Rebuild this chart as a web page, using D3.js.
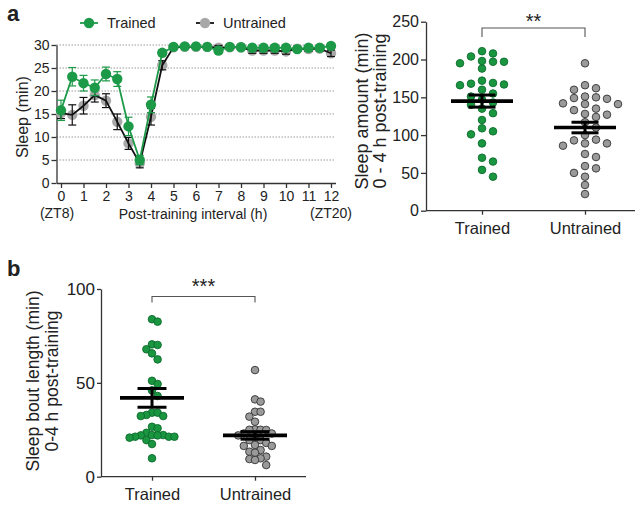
<!DOCTYPE html>
<html><head><meta charset="utf-8">
<script src="https://cdn.jsdelivr.net/npm/d3@7"></script>
<style>
body{margin:0;background:#fff}
svg text{font-family:"Liberation Sans",Arial,Helvetica,sans-serif;fill:#222}
</style>
</head><body>
<svg id="c" width="636" height="507"></svg>
<script>
// ---------- DATA ----------
const hours = [0,0.5,1,1.5,2,2.5,3,3.5,4,4.5,5,5.5,6,6.5,7,7.5,8,8.5,9,9.5,10,10.5,11,11.5,12];
const trainedSleep   = [15.8,23.1,21.7,20.7,23.7,22.6,12.3,5.0,17.0,28.3,29.6,29.7,29.7,29.6,28.8,29.6,29.5,29.4,29.4,29.4,29.4,29.1,29.4,29.4,29.8];
const trainedErr     = [2.2,2.0,1.7,1.7,1.5,1.6,2.0,1.0,1.7,0.6,0.4,0.3,0.3,0.3,0.6,0.3,0.3,0.4,0.4,0.4,0.4,0.5,0.4,0.4,0.3];
const untrainedSleep = [15.2,14.8,16.8,19.1,17.9,13.3,8.6,4.3,14.4,25.6,29.5,29.6,29.6,29.6,29.4,29.5,29.5,28.8,28.8,28.8,28.6,29.2,29.1,29.2,28.2];
const untrainedErr   = [1.2,2.2,1.8,1.5,1.5,1.7,1.3,1.0,1.8,1.0,0.4,0.3,0.3,0.4,0.5,0.4,0.4,0.6,0.6,0.6,0.6,0.5,0.5,0.5,0.7];
const sleepTicks = [0,5,10,15,20,25,30];
const hourTicks = [0,1,2,3,4,5,6,7,8,9,10,11,12];

const groups = ["Trained","Untrained"];
const amountTrained   = [211,208,204,198,197,197,195,188,172,169,168,167,166,160,155,151,147,143,140,135,129,120,109,105,101,89,70,65,54,45];
const amountUntrained = [195,166,162,160,151,150,149,148,142,141,141,135,133,128,127,124,117,110,100,94,93,89,89,86,75,71,59,56,50,45,34,22];
const amountMean = [145,110];
const amountSem  = [8,7];
const amountTicks = [0,50,100,150,200,250];

const boutTrained   = [83.9,82.6,70.5,70.2,67.9,65.7,62.5,51.1,49.4,46,43,34.1,34.1,32.9,32.3,32.3,26.6,25.8,23.4,22.2,22.2,22,22,21.3,21.3,21.3,20.8,19.5,17.4,9.8];
const boutUntrained = [56.8,41.2,40,34.6,34.6,32,29.3,25.2,25,24.9,25,23,23,22,21.3,19.5,19.5,18,16.9,16.4,16.4,14.2,13.3,12.8,10.7,9.8,9.4,8.9,6.2];
const boutMean = [42,22];
const boutSem  = [5,2];
const boutTicks = [0,50,100];

// ---------- STYLE ----------
const GREEN = "#1d9a48", GREEN_D = "#0b6b2b", GREY = "#9a9a9a", GREY_D = "#333";
const svg = d3.select("#c");

function styleAxis(g, fs){
  g.selectAll(".domain").attr("stroke","#333").attr("stroke-width",1.3);
  g.selectAll(".tick line").attr("stroke","#333").attr("stroke-width",1.3);
  g.selectAll(".tick text").attr("font-size",fs).attr("fill","#222")
   .style("font-family",'"Liberation Sans",Arial,sans-serif');
}

// ---------- PANEL a (line chart) ----------
const xA = d3.scaleLinear([-0.2,12.2],[56.5,335.5]);
const yA = d3.scaleLinear([0,30],[183,45]);

svg.append("text").attr("x",7).attr("y",21).attr("font-size",22).attr("font-weight","bold").text("a");

// grid
svg.append("g").selectAll("line").data(sleepTicks.filter(d=>d>0)).join("line")
  .attr("x1",xA(-0.2)).attr("x2",xA(12.2)).attr("y1",d=>yA(d)).attr("y2",d=>yA(d))
  .attr("stroke","#9a9a9a").attr("stroke-width",1).attr("stroke-dasharray","1.5,1.5");

const gyA = svg.append("g").attr("transform",`translate(${xA(-0.2)},0)`)
  .call(d3.axisLeft(yA).tickValues(sleepTicks).tickSize(5).tickPadding(2).tickSizeOuter(0));
styleAxis(gyA,14);
const gxA = svg.append("g").attr("transform",`translate(0,${yA(0)})`)
  .call(d3.axisBottom(xA).tickValues(hourTicks).tickSize(5).tickPadding(3).tickSizeOuter(0).tickFormat(d3.format("d")));
styleAxis(gxA,14);

svg.append("text").attr("transform",`translate(28,117) rotate(-90)`).attr("text-anchor","middle")
  .attr("font-size",16).text("Sleep (min)");
svg.append("text").attr("x",xA(0)-4).attr("y",218).attr("text-anchor","middle").attr("font-size",14).text("(ZT8)");
svg.append("text").attr("x",xA(12)).attr("y",218).attr("text-anchor","middle").attr("font-size",14).text("(ZT20)");
svg.append("text").attr("x",193).attr("y",219).attr("text-anchor","middle").attr("font-size",14).text("Post-training interval (h)");

function drawSeries(vals, errs, markerFill, lineColor, errColor){
  const g = svg.append("g");
  const pts = hours.map((h,i)=>({h,v:vals[i],e:errs[i]}));
  g.selectAll("circle").data(pts).join("circle")
    .attr("cx",d=>xA(d.h)).attr("cy",d=>yA(d.v)).attr("r",5.2).attr("fill",markerFill);
  const eb = g.selectAll("g.eb").data(pts).join("g").attr("stroke",errColor).attr("stroke-width",1.2);
  eb.append("line").attr("x1",d=>xA(d.h)).attr("x2",d=>xA(d.h)).attr("y1",d=>yA(d.v-d.e)).attr("y2",d=>yA(d.v+d.e));
  eb.append("line").attr("x1",d=>xA(d.h)-4).attr("x2",d=>xA(d.h)+4).attr("y1",d=>yA(d.v-d.e)).attr("y2",d=>yA(d.v-d.e));
  eb.append("line").attr("x1",d=>xA(d.h)-4).attr("x2",d=>xA(d.h)+4).attr("y1",d=>yA(d.v+d.e)).attr("y2",d=>yA(d.v+d.e));
  g.append("path").datum(pts).attr("fill","none").attr("stroke",lineColor).attr("stroke-width",1.8)
    .attr("d",d3.line().x(d=>xA(d.h)).y(d=>yA(d.v)));
}
drawSeries(untrainedSleep, untrainedErr, "#a8a8a8", "#111", "#111");
drawSeries(trainedSleep, trainedErr, GREEN, GREEN, GREEN);

// legend
const leg = [{label:"Trained",x:89,fill:GREEN,line:GREEN},{label:"Untrained",x:205,fill:"#a8a8a8",line:"#111"}];
const lg = svg.append("g").selectAll("g").data(leg).join("g");
lg.append("line").attr("x1",d=>d.x-9).attr("x2",d=>d.x+9).attr("y1",23).attr("y2",23).attr("stroke",d=>d.line).attr("stroke-width",1.8);
lg.append("circle").attr("cx",d=>d.x).attr("cy",23).attr("r",5.2).attr("fill",d=>d.fill);
lg.append("text").attr("x",d=>d.x+18).attr("y",28).attr("font-size",14.5).text(d=>d.label);

// ---------- swarm helper ----------
function swarm(vals, y, cx, step, minDy){
  const pts = vals.map(v=>({v, y:y(v)})).sort((a,b)=>a.y-b.y);
  const placed = [];
  for(const p of pts){
    for(let i=0;i<60;i++){
      const k = i===0 ? 0 : (i%2 ? Math.ceil(i/2) : -i/2);
      if(!placed.some(q=>q.k===k && Math.abs(q.y-p.y)<minDy)){ p.k=k; break; }
    }
    placed.push(p);
  }
  pts.forEach(p=>p.x = cx + p.k*step);
  return pts;
}

function scatterPanel(o){
  const y = d3.scaleLinear(o.domain, o.yRange);
  const x = d3.scalePoint(groups, o.xPos);
  const gy = svg.append("g").attr("transform",`translate(${o.axisX},0)`)
    .call(d3.axisLeft(y).tickValues(o.ticks).tickSize(o.tick).tickPadding(o.pad).tickSizeOuter(0));
  styleAxis(gy,o.tickFs);
  const gx = svg.append("g").attr("transform",`translate(0,${y(0)})`)
    .call(d3.axisBottom(x).tickSize(4).tickPadding(4).tickSizeOuter(0));
  styleAxis(gx,16.5);
  gx.select(".domain").attr("d",`M${o.axisX},0H${o.axisEnd}`);
  gx.selectAll(".tick text").attr("dy","0.95em");
  // points
  const series = [{vals:o.trained, fill:"#1a9641", stroke:GREEN_D, g:0},{vals:o.untrained, fill:GREY, stroke:GREY_D, g:1}];
  series.forEach(s=>{
    const pts = swarm(s.vals, y, x(groups[s.g]), o.step, o.minDy);
    svg.append("g").selectAll("circle").data(pts).join("circle")
      .attr("cx",d=>d.x).attr("cy",d=>d.y).attr("r",o.r)
      .attr("fill",s.fill).attr("stroke",s.stroke).attr("stroke-width",0.9);
  });
  // mean + sem
  groups.forEach((gname,i)=>{
    const cx = x(gname), m=o.mean[i], s=o.sem[i];
    const g = svg.append("g").attr("stroke","#000");
    g.append("line").attr("x1",cx-o.mw).attr("x2",cx+o.mw).attr("y1",y(m)).attr("y2",y(m)).attr("stroke-width",3.6);
    g.append("line").attr("x1",cx).attr("x2",cx).attr("y1",y(m-s)).attr("y2",y(m+s)).attr("stroke-width",3);
    g.append("line").attr("x1",cx-o.cw).attr("x2",cx+o.cw).attr("y1",y(m-s)).attr("y2",y(m-s)).attr("stroke-width",3);
    g.append("line").attr("x1",cx-o.cw).attr("x2",cx+o.cw).attr("y1",y(m+s)).attr("y2",y(m+s)).attr("stroke-width",3);
  });
  // bracket
  const x1=x(groups[0]), x2=x(groups[1]);
  svg.append("path").attr("d",`M${x1},${o.brTop+o.brDrop}V${o.brTop}H${x2}V${o.brTop+o.brDrop}`)
    .attr("fill","none").attr("stroke","#555").attr("stroke-width",1.1);
  svg.append("text").attr("x",(x1+x2)/2).attr("y",o.starY).attr("text-anchor","middle")
    .attr("font-size",20).text(o.stars);
  // y title
  const t = svg.append("text").attr("transform",`translate(${o.titleX},${o.titleY}) rotate(-90)`)
    .attr("text-anchor","middle").attr("font-size",o.titleFs);
  t.append("tspan").attr("x",0).attr("dy",0).text(o.title[0]);
  t.append("tspan").attr("x",0).attr("dy",o.titleGap).text(o.title[1]);
}

scatterPanel({
  domain:[0,250], yRange:[210.7,21.7], xPos:[482,585], axisX:426, axisEnd:635,
  ticks:amountTicks, tick:5, pad:2, tickFs:16,
  trained:amountTrained, untrained:amountUntrained, mean:amountMean, sem:amountSem,
  r:3.8, step:11, minDy:7.5, mw:31, cw:13.5,
  brTop:28, brDrop:9, starY:28, stars:"**",
  title:["Sleep amount (min)","0 - 4 h post-training"], titleX:368, titleY:111, titleFs:18, titleGap:18
});

svg.append("text").attr("x",7).attr("y",276).attr("font-size",22).attr("font-weight","bold").text("b");

scatterPanel({
  domain:[0,100], yRange:[476.7,289], xPos:[152,255], axisX:101, axisEnd:306,
  ticks:boutTicks, tick:4, pad:2, tickFs:17,
  trained:boutTrained, untrained:boutUntrained, mean:boutMean, sem:boutSem,
  r:3.8, step:5.6, minDy:7, mw:32, cw:14.5,
  brTop:296.5, brDrop:6, starY:293, stars:"***",
  title:["Sleep bout length (min)","0-4 h post-training"], titleX:39, titleY:381, titleFs:17.5, titleGap:18.5
});
</script>
</body></html>
